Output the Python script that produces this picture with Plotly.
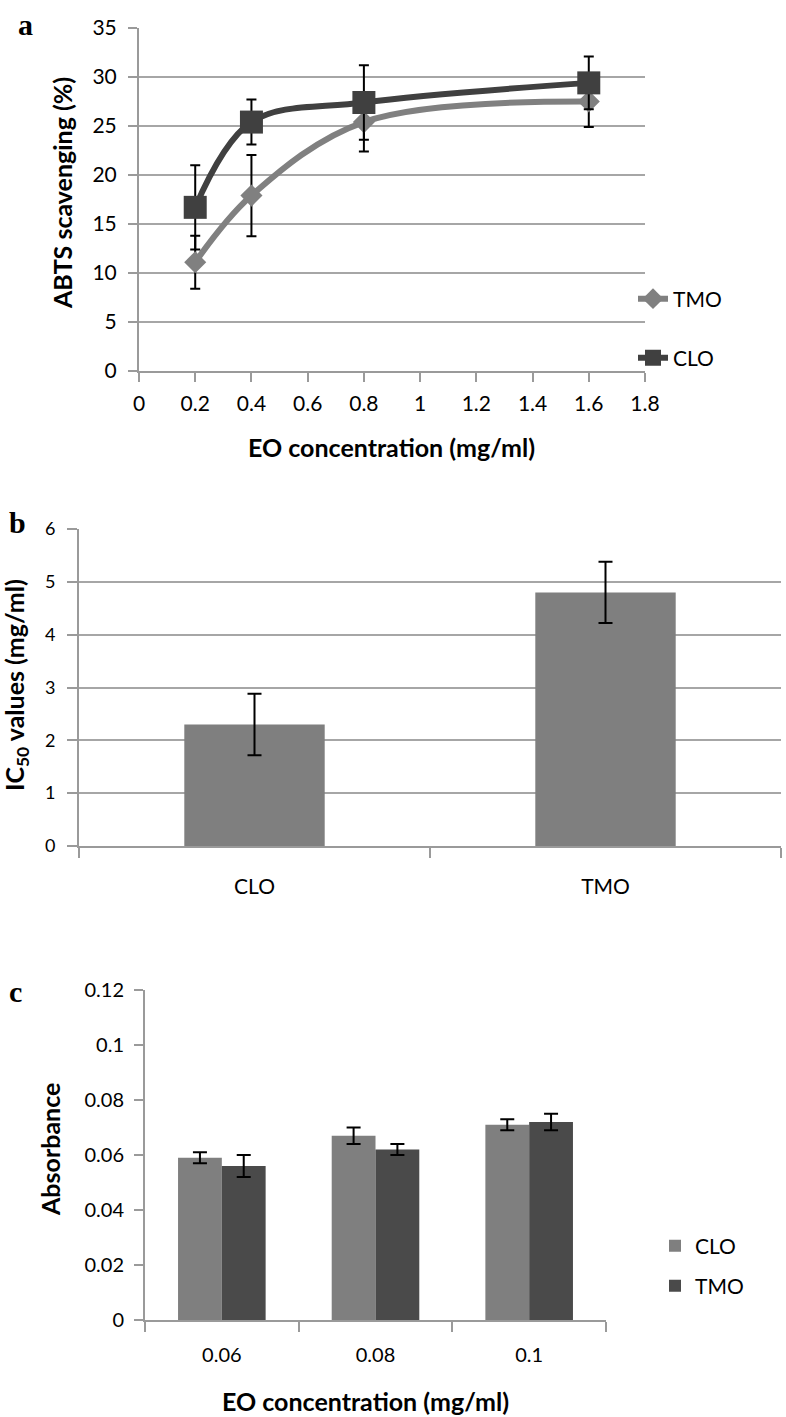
import plotly.graph_objects as go

# ---------------- data ----------------
conc_a = [0.2, 0.4, 0.8, 1.6]
clo_a = [16.7, 25.4, 27.4, 29.4]
clo_a_err = [4.3, 2.3, 3.8, 2.7]
tmo_a = [11.1, 17.9, 25.4, 27.5]
tmo_a_err = [2.7, 4.15, 3.0, 2.6]

oils_b = ["CLO", "TMO"]
ic50_b = [2.3, 4.8]
ic50_b_err = [0.58, 0.58]

conc_c = ["0.06", "0.08", "0.1"]
clo_c = [0.059, 0.067, 0.071]
clo_c_err = [0.002, 0.003, 0.002]
tmo_c = [0.056, 0.062, 0.072]
tmo_c_err = [0.004, 0.002, 0.003]

W, H = 786, 1417
FONT = "Lato"
GRID = "#a6a6a6"
AX = "#9a9a9a"
LIGHT = "#808080"
DARK = "#404040"
DARKBAR = "#4a4a4a"


def px_x(p):
    return p / W


def px_y(p):
    return 1 - p / H


fig = go.Figure()

# ---------- panel a ----------
fig.add_trace(go.Scatter(
    x=conc_a, y=tmo_a, name="TMO", mode="lines+markers",
    line=dict(color=LIGHT, width=6, shape="spline", smoothing=1.0),
    marker=dict(symbol="diamond", size=17, color=LIGHT),
    error_y=dict(type="data", array=tmo_a_err, color="black", thickness=2, width=5),
    xaxis="x", yaxis="y", legend="legend"))
fig.add_trace(go.Scatter(
    x=conc_a, y=clo_a, name="CLO", mode="lines+markers",
    line=dict(color=DARK, width=6, shape="spline", smoothing=1.0),
    marker=dict(symbol="square", size=23, color=DARK),
    error_y=dict(type="data", array=clo_a_err, color="black", thickness=2, width=5),
    xaxis="x", yaxis="y", legend="legend2"))

# ---------- panel b ----------
fig.add_trace(go.Bar(
    x=oils_b, y=ic50_b, width=0.4, marker=dict(color="#7f7f7f", line=dict(width=0)),
    error_y=dict(type="data", array=ic50_b_err, color="black", thickness=2, width=7),
    xaxis="x2", yaxis="y2", showlegend=False))

# ---------- panel c ----------
fig.add_trace(go.Bar(
    x=conc_c, y=clo_c, name="CLO", marker=dict(color="#7f7f7f", line=dict(width=0)),
    error_y=dict(type="data", array=clo_c_err, color="black", thickness=2, width=7),
    xaxis="x3", yaxis="y3", legend="legend3"))
fig.add_trace(go.Bar(
    x=conc_c, y=tmo_c, name="TMO", marker=dict(color=DARKBAR, line=dict(width=0)),
    error_y=dict(type="data", array=tmo_c_err, color="black", thickness=2, width=7),
    xaxis="x3", yaxis="y3", legend="legend4"))

tickfont = lambda s: dict(family=FONT, size=s, color="black")
common = dict(zeroline=False, showline=True, linecolor=AX, linewidth=2,
              ticks="outside", tickcolor=AX, tickwidth=2, automargin=False)

fig.update_layout(
    width=W, height=H, autosize=False,
    margin=dict(l=0, r=0, t=0, b=0, pad=0, autoexpand=False),
    paper_bgcolor="white", plot_bgcolor="white",
    font=dict(family=FONT, color="black"),
    barmode="group", bargap=0.43, bargroupgap=0,
    xaxis=dict(domain=[px_x(139), px_x(645)], range=[0, 1.8], dtick=0.2, tick0=0,
               showgrid=False, ticklen=9, ticklabelstandoff=4,
               tickfont=tickfont(21), anchor="y", **common),
    yaxis=dict(domain=[px_y(371), px_y(28)], range=[0, 35], dtick=5,
               showgrid=True, gridcolor=GRID, gridwidth=2, ticklen=9, ticklabelstandoff=7,
               tickfont=tickfont(21), anchor="x", **common),
    xaxis2=dict(domain=[px_x(79), px_x(781)], type="category", tickson="boundaries",
                showgrid=False, ticklen=10, ticklabelstandoff=21,
                tickfont=tickfont(21), anchor="y2", **common),
    yaxis2=dict(domain=[px_y(846), px_y(529)], range=[0, 6], dtick=1,
                showgrid=True, gridcolor=GRID, gridwidth=2, ticklen=10, ticklabelstandoff=8,
                tickfont=tickfont(18), anchor="x2", **common),
    xaxis3=dict(domain=[px_x(145), px_x(606)], type="category", tickson="boundaries",
                showgrid=False, ticklen=10, ticklabelstandoff=16,
                tickfont=tickfont(20), anchor="y3", **common),
    yaxis3=dict(domain=[px_y(1320), px_y(990)], range=[0, 0.12], dtick=0.02,
                tickformat="~g", showgrid=False, ticklen=9, ticklabelstandoff=6,
                tickfont=tickfont(20), anchor="x3", **common),
    legend=dict(x=px_x(633), y=px_y(299), xanchor="left", yanchor="middle",
                font=dict(family=FONT, size=21, color="black"), bgcolor="rgba(0,0,0,0)"),
    legend2=dict(x=px_x(633), y=px_y(358), xanchor="left", yanchor="middle",
                 font=dict(family=FONT, size=21, color="black"), bgcolor="rgba(0,0,0,0)"),
    legend3=dict(x=px_x(655), y=px_y(1246), xanchor="left", yanchor="middle",
                 font=dict(family=FONT, size=21, color="black"), bgcolor="rgba(0,0,0,0)"),
    legend4=dict(x=px_x(655), y=px_y(1286), xanchor="left", yanchor="middle",
                 font=dict(family=FONT, size=21, color="black"), bgcolor="rgba(0,0,0,0)"),
)

annots = [
    ("a", 26, 24, 0, dict(family="Liberation Serif", size=30, color="black")),
    ("b", 17, 522, 0, dict(family="Liberation Serif", size=30, color="black")),
    ("c", 15, 991, 0, dict(family="Liberation Serif", size=30, color="black")),
    ("ABTS scavenging (%)", 62, 193, -90, dict(family=FONT, size=25, color="black")),
    ("EO concentration (mg/ml)", 391, 447, 0, dict(family=FONT, size=25, color="black")),
    ("IC<sub>50</sub> values (mg/ml)", 16, 685, -90, dict(family=FONT, size=25, color="black")),
    ("Absorbance", 50, 1150, -90, dict(family=FONT, size=25, color="black")),
    ("EO concentration (mg/ml)", 365, 1401, 0, dict(family=FONT, size=25, color="black")),
]
for text, x, y, ang, f in annots:
    fig.add_annotation(text=f"<b>{text}</b>", x=px_x(x), y=px_y(y),
                       xref="paper", yref="paper", showarrow=False, textangle=ang,
                       xanchor="center", yanchor="middle", font=f)

fig.write_html("out.html", config={"displayModeBar": False},
               post_script="document.body.style.margin='0';")
